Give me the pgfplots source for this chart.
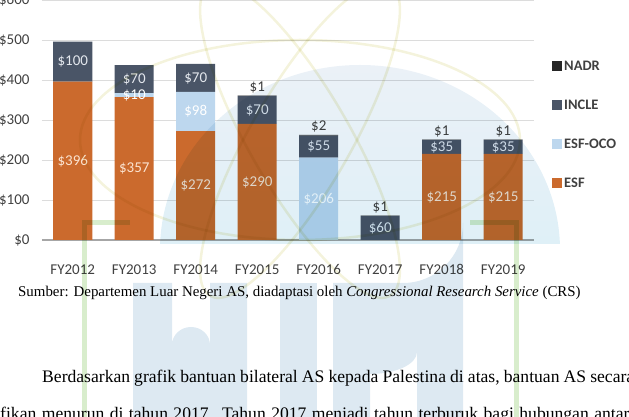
\documentclass[border=0pt]{standalone}
\usepackage{pgfplots}
\pgfplotsset{compat=1.18}
\usepackage{pgfplotstable}
\usepackage{fontspec}
\setmainfont{Liberation Serif}
\newfontfamily\chartfont{Carlito}

\definecolor{esf}{HTML}{CB6A2D}
\definecolor{esfoco}{HTML}{BDD7EE}
\definecolor{incle}{HTML}{4A5567}
\definecolor{nadr}{HTML}{262626}
\definecolor{gridgray}{HTML}{DCDCDC}
\definecolor{axisgray}{HTML}{A6A6A6}
\definecolor{labelgray}{HTML}{404040}
\definecolor{esflabel}{HTML}{FBE3D0}
\definecolor{inclelabel}{HTML}{E4E8EE}
\definecolor{wmblue}{HTML}{DDE9F2}
\definecolor{wmsphereT}{HTML}{EBF1F7}
\definecolor{wmsphereB}{HTML}{D2EEF8}
\definecolor{wmgreen}{HTML}{D8EDCC}
\definecolor{wmyellow}{HTML}{F4F3DC}

% bilateral aid by account, US$ millions
\pgfplotstableread{
x ESF OCO INCLE NADR
0 396 0   100 0
1 357 10  70  0
2 272 98  70  0
3 290 0   70  1
4 0   206 55  2
5 0   0   60  1
6 215 0   35  1
7 215 0   35  1
}\aid

\tikzset{chartlabel/.style={font=\chartfont\fontsize{15}{15}\selectfont}}

\pgfplotsset{
  plotframe/.style={
    at={(42pt,177pt)}, anchor=south west, scale only axis,
    width=492pt, height=240pt,
    xmin=-0.5, xmax=7.5, ymin=0, ymax=600},
}

\begin{document}
\begin{tikzpicture}[x=1pt,y=1pt]
\useasboundingbox (0,0) rectangle (629,417);
\clip (0,0) rectangle (629,417);

% stacked bars
\begin{axis}[plotframe,
  ybar stacked, bar width=39pt,
  axis line style={draw=none},
  major tick length=0pt,
  ymajorgrids, grid style={gridgray, line width=0.8pt},
  ytick={0,100,...,600},
  yticklabels={\$0,\$100,\$200,\$300,\$400,\$500,\$600},
  extra y ticks={0}, extra y tick labels={},
  extra y tick style={grid style={axisgray, line width=1.2pt}},
  xtick={0,...,7},
  xticklabels={FY2012,FY2013,FY2014,FY2015,FY2016,FY2017,FY2018,FY2019},
  tick label style={font=\chartfont\fontsize{15}{15}\selectfont, text=labelgray},
  yticklabel style={xshift=-9pt},
  xticklabel style={yshift=-21pt},
  reverse legend,
  legend style={at={(axis description cs:1.0366,0.755)}, anchor=north west,
    draw=none, fill=none, inner sep=0pt,
    font=\chartfont\bfseries\fontsize{14.5}{14.5}\selectfont, text=labelgray,
    row sep=24pt, cells={anchor=west},
    /tikz/every even column/.append style={column sep=3pt}},
  legend image code/.code={\fill[#1] (0pt,-5pt) rectangle (10pt,5pt);},
]
\addplot[fill=esf, draw=none] table[x=x, y=ESF]{\aid};
\addplot[fill=esfoco, draw=none] table[x=x, y=OCO]{\aid};
\addplot[fill=incle, draw=none] table[x=x, y=INCLE]{\aid};
\addplot[fill=nadr, draw=none] table[x=x, y=NADR]{\aid};
\legend{ESF,ESF-OCO,INCLE,NADR}
\end{axis}

% value labels; zero segments get no label
\begin{axis}[plotframe, hide axis, clip=false,
  point meta=explicit,
  nodes near coords={\pgfmathfloatifflags{\pgfplotspointmeta}{0}{}{\$\pgfmathprintnumber[assume math mode=true]{\pgfplotspointmeta}}},
  every node near coord/.append style={chartlabel, anchor=center, inner sep=0pt},
]
\addplot[draw=none,
  every node near coord/.append style={text=esflabel}]
  table[x=x, y expr=\thisrow{ESF}/2, meta=ESF]{\aid};
\addplot[draw=none,
  every node near coord/.append style={text=white}]
  table[x=x, y expr=\thisrow{ESF}+\thisrow{OCO}/2, meta=OCO]{\aid};
\addplot[draw=none,
  every node near coord/.append style={text=inclelabel}]
  table[x=x, y expr=\thisrow{ESF}+\thisrow{OCO}+\thisrow{INCLE}/2, meta=INCLE]{\aid};
\addplot[draw=none,
  every node near coord/.append style={text=labelgray, anchor=south, yshift=2pt}]
  table[x=x, y expr=\thisrow{ESF}+\thisrow{OCO}+\thisrow{INCLE}+\thisrow{NADR}, meta=NADR]{\aid};
\end{axis}

% caption and body text
\node[anchor=base west, inner sep=0pt] at (18,120)
  {\fontsize{14.9}{15}\selectfont Sumber: Departemen Luar Negeri AS, diadaptasi oleh \textit{Congressional Research Service} (CRS)};
\node[anchor=base west, inner sep=0pt] at (42,34)
  {\fontsize{17.6}{18}\selectfont\hbox to 592pt{Berdasarkan grafik bantuan bilateral AS kepada Palestina di atas, bantuan AS secara}};
\node[anchor=base west, inner sep=0pt] at (0,-3)
  {\fontsize{17.6}{18}\selectfont\hbox to 637pt{\llap{signi}fikan menurun di tahun 2017. Tahun 2017 menjadi tahun terburuk bagi hubungan antara}};

% university watermark laid over the page
\begin{scope}[yshift=417pt, yscale=-1, blend mode=multiply]
  \begin{scope}
    \clip (0,0) rectangle (629,244);
    \shade[top color=wmsphereT, bottom color=wmsphereB] (360,250) ellipse [x radius=200, y radius=185];
  \end{scope}
  \draw[wmyellow, line width=2.5pt] (300,140) ellipse [x radius=220, y radius=100];
  \draw[wmyellow, line width=2.5pt, rotate around={60:(300,140)}] (300,140) ellipse [x radius=180, y radius=50];
  \draw[wmyellow, line width=2.5pt, rotate around={-60:(300,140)}] (300,140) ellipse [x radius=180, y radius=50];
  \draw[wmgreen, line width=5pt] (84,430) -- (84,223) -- (130,223);
  \draw[wmgreen, line width=5pt] (516,430) -- (516,223) -- (470,223);
  % u
  \fill[wmblue] (133,283) -- (172,283) -- (172,345) arc[start angle=180, end angle=360, x radius=19, y radius=18] -- (210,283) -- (247,283) -- (247,430) -- (133,430) -- cycle;
  % i
  \fill[wmblue] (280,283) rectangle (317,430);
  % n
  \fill[wmblue] (333,430) -- (333,283) -- (403,283) arc[start angle=90, end angle=0, radius=60] -- (463,430) -- (417,430) -- (417,352) arc[start angle=0, end angle=90, x radius=47, y radius=22] -- (370,330) -- (370,430) -- cycle;
\end{scope}
\end{tikzpicture}
\end{document}
